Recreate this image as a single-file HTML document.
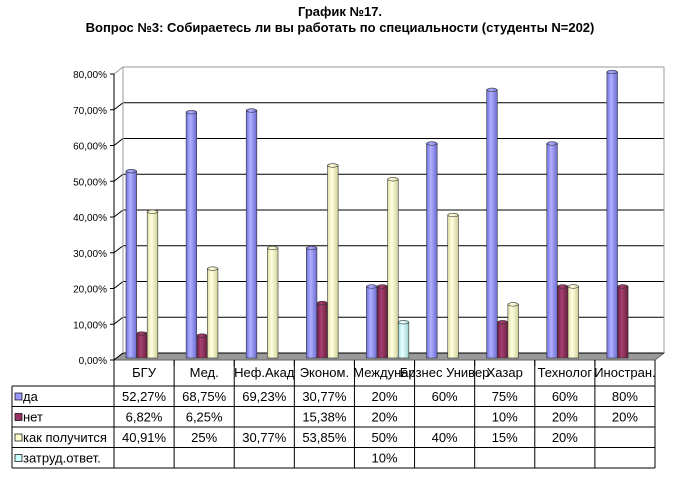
<!DOCTYPE html>
<html><head><meta charset="utf-8">
<style>
body{margin:0;background:#fff;}
svg text{font-family:"Liberation Sans",Arial,sans-serif;}
</style></head>
<body>
<svg id="chart" width="674" height="476" viewBox="0 0 674 476" xmlns="http://www.w3.org/2000/svg">
<defs>
<linearGradient id="g0" x1="0" x2="1"><stop offset="0" stop-color="#7070e0"/><stop offset="0.4" stop-color="#b0b0ff"/><stop offset="1" stop-color="#6a6ad0"/></linearGradient>
<linearGradient id="g1" x1="0" x2="1"><stop offset="0" stop-color="#6a1e44"/><stop offset="0.4" stop-color="#a84070"/><stop offset="1" stop-color="#66203f"/></linearGradient>
<linearGradient id="g2" x1="0" x2="1"><stop offset="0" stop-color="#e0e0a8"/><stop offset="0.4" stop-color="#ffffe0"/><stop offset="1" stop-color="#d0d09a"/></linearGradient>
<linearGradient id="g3" x1="0" x2="1"><stop offset="0" stop-color="#a8e0e0"/><stop offset="0.4" stop-color="#e8ffff"/><stop offset="1" stop-color="#9ad0d0"/></linearGradient>
</defs>
<text x="340" y="16" text-anchor="middle" font-size="13" font-weight="bold">График №17.</text>
<text x="340" y="32" text-anchor="middle" font-size="13" font-weight="bold">Вопрос №3: Собираетесь ли вы работать по специальности (студенты N=202)</text>
<g id="axes"></g>
<g id="bars"></g>
<g id="table"></g>
</svg>
<script>
const categories=["БГУ","Мед.","Неф.Акад","Эконом.","Междунар","Бизнес Универ","Хазар","Технолог","Иностран."];
const seriesNames=["да","нет","как получится","затруд.ответ."];
const yesVals=[52.27,68.75,69.23,30.77,20,60,75,60,80];
const noVals=[6.82,6.25,null,15.38,20,null,10,20,20];
const maybeVals=[40.91,25,30.77,53.85,50,40,15,20,null];
const hardVals=[null,null,null,null,10,null,null,null,null];
const yesLabels=["52,27%","68,75%","69,23%","30,77%","20%","60%","75%","60%","80%"];
const noLabels=["6,82%","6,25%","","15,38%","20%","","10%","20%","20%"];
const maybeLabels=["40,91%","25%","30,77%","53,85%","50%","40%","15%","20%",""];
const hardLabels=["","","","","10%","","","",""];
const yTicks=[0,10,20,30,40,50,60,70,80];
const yTickLabels=["0,00%","10,00%","20,00%","30,00%","40,00%","50,00%","60,00%","70,00%","80,00%"];

const NS="http://www.w3.org/2000/svg";
const X0=114,X1=655,Y0=360,DX=9,DY=-7,PX=3.575;
const catW=(X1-X0)/categories.length;
const yS=v=>Y0-v*PX;
const xC=i=>X0+i*catW;
function mk(tag,attrs,parent,txt){const e=document.createElementNS(NS,tag);for(const k in attrs)e.setAttribute(k,attrs[k]);if(txt!=null)e.textContent=txt;parent.appendChild(e);return e;}
const axes=document.getElementById('axes');
let floor=mk('polygon',{points:`${X0},${Y0} ${X1},${Y0} ${X1+DX},${Y0+DY} ${X0+DX},${Y0+DY}`,fill:'#999',stroke:'#666'},axes);


yTicks.forEach((t,i)=>{
  const y=yS(t);
  const g=mk('path',{d:`M${X0},${y} L${X0+DX},${y+DY} L${X1+DX},${y+DY}`,fill:'none',stroke:t===80?'#999':'#000','stroke-width':1},axes);
  
  
  mk('line',{x1:X0-4,y1:y,x2:X0,y2:y,stroke:'#000'},axes);
  const l=mk('text',{x:X0-7,y:y+4,'text-anchor':'end','font-size':10},axes,yTickLabels[i]);
  
  
});
mk('line',{x1:X0,y1:Y0,x2:X0,y2:yS(80),stroke:'#000'},axes);
mk('line',{x1:X0+DX,y1:Y0+DY,x2:X0+DX,y2:yS(80)+DY,stroke:'#999'},axes);
mk('line',{x1:X1+DX,y1:Y0+DY,x2:X1+DX,y2:yS(80)+DY,stroke:'#999'},axes);
for(let i=0;i<=categories.length;i++){mk('line',{x1:xC(i),y1:Y0,x2:xC(i),y2:Y0+6,stroke:'#000'},axes);}
const bars=document.getElementById('bars');
const series=[yesVals,noVals,maybeVals,hardVals];
const bw=10.6,base=358;
categories.forEach((c,i)=>{
  series.forEach((s,k)=>{
    const v=s[i]; if(v==null)return;
    const x=xC(i)+12+k*bw, top=base-v*PX;
    const g=mk('g',{},bars);
    
    
    mk('rect',{x:x,y:top,width:bw,height:base-top,fill:`url(#g${k})`,stroke:'#333','stroke-width':0.6},g);
    mk('ellipse',{cx:x+bw/2,cy:top,rx:bw/2,ry:1.8,fill:`url(#g${k})`,stroke:'#333','stroke-width':0.6},g);
  });
});
const tb=document.getElementById('table');
const rowsL=[yesLabels,noLabels,maybeLabels,hardLabels];
const sw=['#9999ff','#993366','#ffffcc','#ccffff'];
const T0=386,RH=20.5,LX=12;
categories.forEach((c,i)=>{
  const t=mk('text',{x:xC(i)+catW/2,y:377,'text-anchor':'middle','font-size':13},tb,c);
  
  
});
for(let r=0;r<=4;r++)mk('line',{x1:LX,y1:T0+r*RH,x2:X1,y2:T0+r*RH,stroke:'#000'},tb);
mk('line',{x1:LX,y1:T0,x2:LX,y2:T0+4*RH,stroke:'#000'},tb);
for(let i=0;i<=categories.length;i++)mk('line',{x1:xC(i),y1:Y0,x2:xC(i),y2:T0+4*RH,stroke:'#000'},tb);
rowsL.forEach((row,r)=>{
  const y=T0+r*RH+15;
  const sq=mk('rect',{x:LX+3,y:y-8,width:7,height:7,fill:sw[r],stroke:'#000','stroke-width':0.7},tb);
  
  
  const n=mk('text',{x:LX+11,y:y,'font-size':13},tb,seriesNames[r]);
  
  
  row.forEach((lab,i)=>{
    if(!lab)return;
    const t=mk('text',{x:xC(i)+catW/2,y:y,'text-anchor':'middle','font-size':13},tb,lab);
    
    
  });
});
</script>
</body></html>
